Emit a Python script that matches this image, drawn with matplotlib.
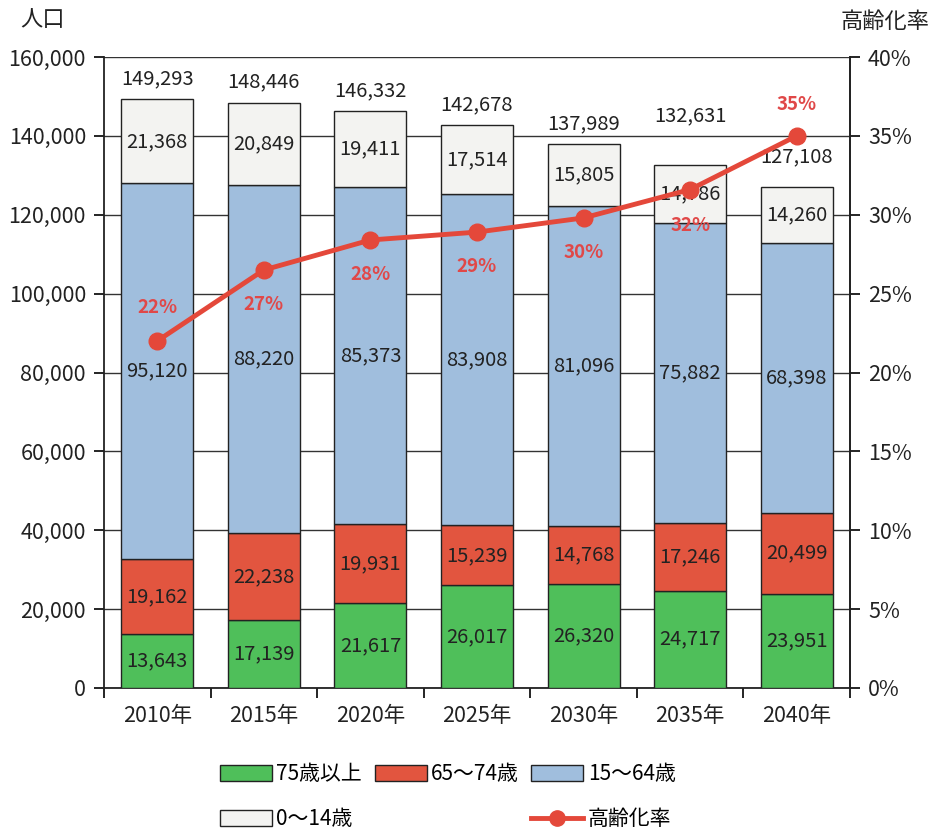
import matplotlib
matplotlib.use("Agg")
import matplotlib.pyplot as plt
from matplotlib.patches import Patch
from matplotlib.lines import Line2D
import numpy as np

plt.rcParams['font.family'] = ['Noto Sans CJK JP', 'DejaVu Sans']

years = ["2010年", "2015年", "2020年", "2025年", "2030年", "2035年", "2040年"]
age75_plus = [13643, 17139, 21617, 26017, 26320, 24717, 23951]
age65_74 = [19162, 22238, 19931, 15239, 14768, 17246, 20499]
age15_64 = [95120, 88220, 85373, 83908, 81096, 75882, 68398]
age0_14 = [21368, 20849, 19411, 17514, 15805, 14786, 14260]
totals = [149293, 148446, 146332, 142678, 137989, 132631, 127108]
aging_rate = [22.0, 26.5, 28.4, 28.9, 29.8, 31.6, 35.0]
aging_labels = ["22%", "27%", "28%", "29%", "30%", "32%", "35%"]
series_names = ["75歳以上", "65～74歳", "15～64歳", "0～14歳", "高齢化率"]

c_green = "#4fbf5a"
c_red = "#e2553f"
c_blue = "#a0bedd"
c_white = "#f3f3f1"
c_line = "#e4483a"

fig = plt.figure(figsize=(9.37, 8.33), dpi=100)
ax = fig.add_axes([104/937, 1-688/833, 746/937, 631/833])
x = np.arange(len(years))
w = 0.675

segs = [age75_plus, age65_74, age15_64, age0_14]
cols = [c_green, c_red, c_blue, c_white]
bottom = np.zeros(len(years))
for vals, col in zip(segs, cols):
    v = np.array(vals, dtype=float)
    ax.bar(x, v, w, bottom=bottom, color=col, edgecolor="#222222", linewidth=1.0, zorder=3)
    for xi, b, vi in zip(x, bottom, v):
        ax.text(xi, b + vi/2, f"{int(vi):,}", ha="center", va="center", fontsize=14.5,
                color="#222222", zorder=6)
    bottom += v

# totals above bars
tot_off = [5200, 5200, 5200, 5200, 5200, 12500, 7500]
for xi, t, o in zip(x, totals, tot_off):
    ax.text(xi, t + o, f"{t:,}", ha="center", va="center", fontsize=14.5, color="#222222", zorder=6)

ax.set_xlim(-0.5, len(years)-0.5)
ax.set_ylim(0, 160000)
ax.set_yticks(np.arange(0, 160001, 20000))
ax.set_yticklabels([f"{int(t):,}" for t in np.arange(0, 160001, 20000)], fontsize=15.5, color="#222222")
ax.yaxis.grid(True, color="#333333", linewidth=1.0, zorder=0)
ax.set_axisbelow(True)
ax.set_xticks(x)
ax.set_xticklabels(years, fontsize=15.5, color="#222222")
ax.set_xticks(np.arange(-0.5, len(years), 1.0), minor=True)
ax.tick_params(axis="x", which="major", length=0, pad=12)
ax.tick_params(axis="x", which="minor", length=7, width=1.2, direction="out")
ax.tick_params(axis="y", length=7, width=1.2, direction="out", pad=6)
for s in ["left", "bottom", "right"]:
    ax.spines[s].set_linewidth(1.3)
    ax.spines[s].set_color("#222222")
ax.spines["top"].set_visible(False)

ax2 = ax.twinx()
ax2.set_ylim(0, 40)
ax2.set_yticks(np.arange(0, 41, 5))
ax2.set_yticklabels([f"{t}%" for t in range(0, 41, 5)], fontsize=15.5, color="#222222")
ax2.tick_params(axis="y", length=7, width=1.2, direction="out", pad=6)
for s in ["left", "bottom", "top"]:
    ax2.spines[s].set_visible(False)
ax2.spines["right"].set_linewidth(1.3)
ax2.spines["right"].set_color("#222222")
ax2.plot(x, aging_rate, color=c_line, linewidth=3.5, marker="o", markersize=12,
         markerfacecolor=c_line, markeredgecolor=c_line, zorder=5)
lab_off = [2.1, -2.2, -2.2, -2.2, -2.2, -2.3, 2.0]
for xi, r, l, o in zip(x, aging_rate, aging_labels, lab_off):
    ax2.text(xi, r + o, l, ha="center", va="center", fontsize=13.5, color="#e04848",
             fontweight="bold", zorder=7)

fig.text(20/937, 1-20/833, "人口", fontsize=16, ha="left", va="center", color="#222222")
fig.text(930/937, 1-22/833, "高齢化率", fontsize=16, ha="right", va="center", color="#222222")

handles = [Patch(facecolor=c_green, edgecolor="#222222"),
           Patch(facecolor=c_white, edgecolor="#222222"),
           Patch(facecolor=c_red, edgecolor="#222222"),
           Patch(facecolor="none", edgecolor="none"),
           Patch(facecolor=c_blue, edgecolor="#222222"),
           Line2D([], [], color=c_line, linewidth=3.5, marker="o", markersize=11)]
labels = [series_names[0], series_names[3], series_names[1], "", series_names[2], series_names[4]]
fig.legend(handles, labels, ncol=3, loc="upper left", bbox_to_anchor=(214/937, 1-757/833),
           frameon=False, fontsize=15, handlelength=2.5, handleheight=0.8,
           handletextpad=0.2, columnspacing=0.6, labelspacing=1.1, borderaxespad=0,
           borderpad=0.3)

fig.savefig("out.png", dpi=100)
